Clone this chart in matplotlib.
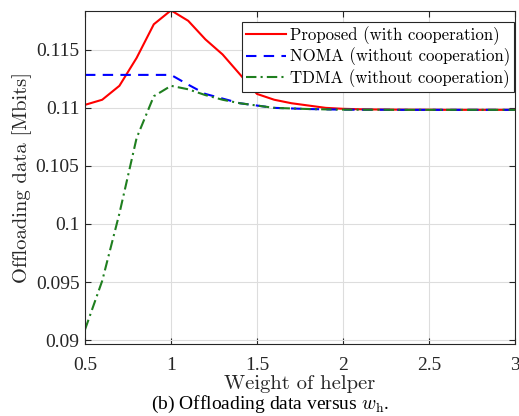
import matplotlib
matplotlib.use("Agg")
import matplotlib.pyplot as plt
import numpy as np

plt.rcParams['font.family'] = 'serif'
plt.rcParams['font.serif'] = ['cmr10', 'DejaVu Serif']
plt.rcParams['mathtext.fontset'] = 'cm'
plt.rcParams['axes.formatter.use_mathtext'] = True

weights = [0.5, 0.6, 0.7, 0.8, 0.9, 1.0, 1.1, 1.2, 1.3, 1.4, 1.5, 1.6, 1.7, 1.8,
           1.9, 2.0, 2.1, 2.2, 2.3, 2.4, 2.5, 2.6, 2.7, 2.8, 2.9, 3.0]
proposed = [0.11026, 0.1107, 0.1119, 0.1143, 0.1172, 0.1184, 0.1175, 0.1159,
            0.1146, 0.1129, 0.1112, 0.1107, 0.1104, 0.1102, 0.1100, 0.10992,
            0.10988, 0.10986, 0.10985, 0.10984, 0.10984, 0.10983, 0.10983,
            0.10983, 0.10983, 0.10983]
noma = [0.11284, 0.11284, 0.11284, 0.11284, 0.11284, 0.11284, 0.1120, 0.1112,
        0.1108, 0.1104, 0.1102, 0.1100, 0.10995, 0.1099, 0.10987, 0.10985,
        0.10984, 0.10984, 0.10983, 0.10983, 0.10983, 0.10983, 0.10983,
        0.10983, 0.10983, 0.10983]
tdma = [0.0909, 0.0951, 0.1009, 0.1074, 0.1110, 0.1119, 0.1116, 0.1111,
        0.1107, 0.1104, 0.1102, 0.1100, 0.10995, 0.1099, 0.10987, 0.10985,
        0.10984, 0.10984, 0.10983, 0.10983, 0.10983, 0.10983, 0.10983,
        0.10983, 0.10983, 0.10983]
xticks = [0.5, 1, 1.5, 2, 2.5, 3]
xticklabels = ['0.5', '1', '1.5', '2', '2.5', '3']
yticks = [0.09, 0.095, 0.1, 0.105, 0.11, 0.115]
yticklabels = ['0.09', '0.095', '0.1', '0.105', '0.11', '0.115']

W, H = 519, 416
fig = plt.figure(figsize=(W/100, H/100), dpi=100)
ax = fig.add_axes([85/W, 1-344/H, 430/W, 333.3/H])

ax.plot(weights, proposed, color='#ff0000', lw=1.5, label='Proposed (with cooperation)')
ax.plot(weights, noma, color='#0000ff', lw=1.5, ls=(0, (5, 3.5)), label='NOMA (without cooperation)')
ax.plot(weights, tdma, color='#1f7f1f', lw=1.5, ls=(0, (5, 2, 1, 2)), label='TDMA (without cooperation)')

ax.set_xlim(0.5, 3)
ax.set_ylim(0.08966, 0.11837)
tickfont = {'family': 'Liberation Serif', 'size': 14}
ax.set_xticks(xticks)
ax.set_xticklabels(xticklabels, fontdict=tickfont)
ax.set_yticks(yticks)
ax.set_yticklabels(yticklabels, fontdict=tickfont)
ax.grid(True, color='#dddddd', lw=0.8)
ax.tick_params(direction='in', top=True, right=True, length=4, colors='#262626')
ax.tick_params(axis='x', pad=9)
ax.tick_params(axis='y', pad=4)
for lab in ax.get_xticklabels() + ax.get_yticklabels():
    lab.set_color('#262626')
for s in ax.spines.values():
    s.set_color('#262626')
    s.set_linewidth(0.8)

ax.set_xlabel('Weight of helper', fontsize=14.8, labelpad=1, color='#262626')
ax.set_ylabel('Offloading data [Mbits]', fontsize=14.8, labelpad=3, color='#262626')

leg = ax.legend(loc='upper right', bbox_to_anchor=(514/W, 1-22/H), bbox_transform=fig.transFigure,
                fontsize=12.1, frameon=True, fancybox=False,
                edgecolor='#262626', framealpha=1, borderpad=0.25, labelspacing=0.17,
                handlelength=2.4, handletextpad=0.2, borderaxespad=0.0)
leg.get_frame().set_linewidth(0.8)

fig.text(270/W, 1/H, r'(b) Offloading data versus $w_\mathrm{h}$.',
         ha='center', va='bottom', fontsize=14, family='Liberation Serif')

fig.savefig('out.png', dpi=100)
